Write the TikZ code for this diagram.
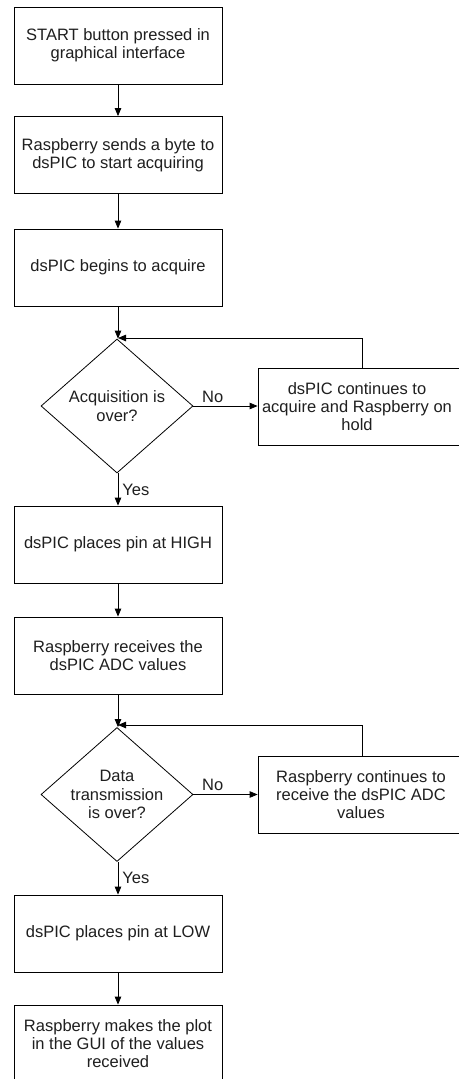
\documentclass[tikz,border=0pt]{standalone}
\usepackage{fontspec}
\setmainfont{Liberation Sans}
\usetikzlibrary{arrows.meta,shapes.geometric}
\begin{document}
\begin{tikzpicture}[x=1pt,y=-1pt,
  txt/.style={font=\fontsize{16.5}{18.3}\selectfont, text=black!88, align=center, inner sep=0pt},
  proc/.style={draw, line width=0.8pt, minimum width=208pt, minimum height=77pt, inner sep=0pt, txt},
  sidebox/.style={draw, line width=0.8pt, minimum width=208pt, minimum height=77pt, inner sep=0pt},
  dec/.style={draw, line width=0.8pt, diamond, minimum width=152pt, minimum height=134pt, inner sep=0pt},
  arr/.style={line width=0.8pt, -{Triangle[length=8pt,width=6.5pt]}},
  lbl/.style={font=\fontsize{16.5}{18.3}\selectfont, text=black!88}
]
\useasboundingbox[fill=white] (0,0) rectangle (458,1079);

\node[proc] (b1) at (118,45.5) {START button pressed in\\graphical interface};
\node[proc] (b2) at (118,155) {Raspberry sends a byte to\\dsPIC to start acquiring};
\node[proc] (b3) at (118,267.5) {dsPIC begins to acquire};
\node[dec] (d1) at (117,406) {};
\node[txt] (d1t) at (117,406) {Acquisition is\\over?};
\node[sidebox] (s1) at (362,406.5) {};
\node[txt] (s1t) at (357,406.5) {dsPIC continues to\\acquire and Raspberry on\\hold};
\node[proc] (b4) at (118,544.5) {dsPIC places pin at HIGH};
\node[proc] (b5) at (118,655.5) {Raspberry receives the\\dsPIC ADC values};
\node[dec] (d2) at (117,794.5) {};
\node[txt] (d2t) at (117,794.5) {Data\\transmission\\is over?};
\node[sidebox] (s2) at (362,794.5) {};
\node[txt] (s2t) at (361,794.5) {Raspberry continues to\\receive the dsPIC ADC\\values};
\node[proc] (b6) at (118,933.5) {dsPIC places pin at LOW};
\node[proc] (b7) at (118,1043.5) {Raspberry makes the plot\\in the GUI of the values\\received};

\coordinate (m1) at (118,338);
\coordinate (m2) at (118,725);

\draw[arr] (b1.south) -- (b2.north);
\draw[arr] (b2.south) -- (b3.north);
\draw[arr] (b3.south) -- (b3.south |- d1.north);
\draw[arr] (d1.east) -- node[lbl, pos=0.3, above, inner sep=3pt] (no1) {No} (s1.west |- d1.east);
\draw[arr] (s1.north) |- (m1);
\draw[arr] (b3.south |- d1.south) -- node[lbl, right, inner sep=4pt] (yes1) {Yes} (b4.north);
\draw[arr] (b4.south) -- (b5.north);
\draw[arr] (b5.south) -- (b5.south |- d2.north);
\draw[arr] (d2.east) -- node[lbl, pos=0.3, above, inner sep=3pt] (no2) {No} (s2.west |- d2.east);
\draw[arr] (s2.north) |- (m2);
\draw[arr] (b5.south |- d2.south) -- node[lbl, right, inner sep=4pt] (yes2) {Yes} (b6.north);
\draw[arr] (b6.south) -- (b7.north);
\end{tikzpicture}
\end{document}
